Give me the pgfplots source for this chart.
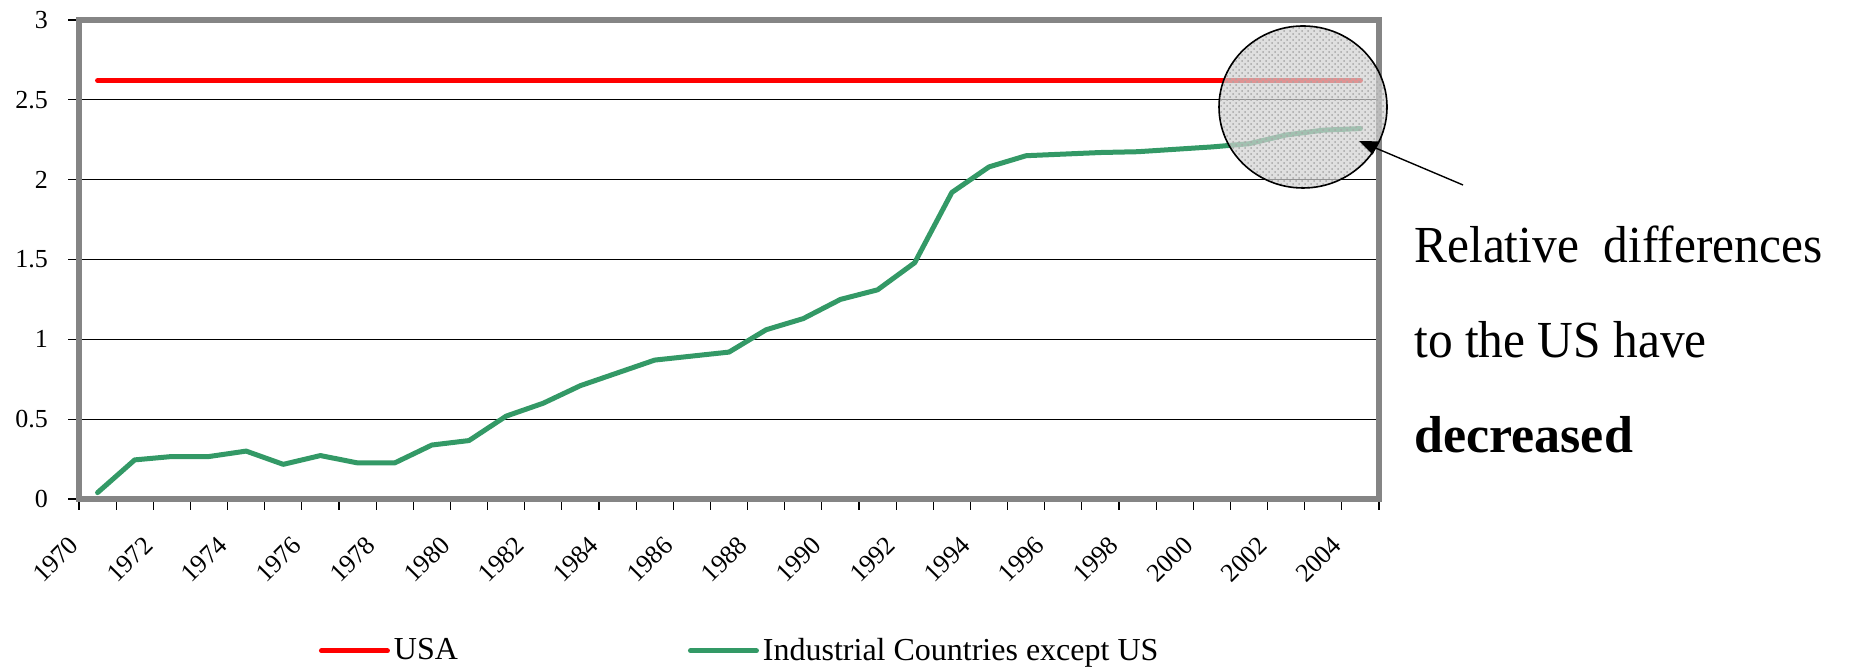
\documentclass[border=0pt]{standalone}
\usepackage{fontspec}
\setmainfont{Liberation Serif}
\newfontfamily\notefont[FakeStretch=0.95]{Liberation Serif}
\usepackage{pgfplots}
\pgfplotsset{compat=1.18}
\usetikzlibrary{arrows.meta,patterns}
\definecolor{usred}{HTML}{FF0000}
\definecolor{indgreen}{HTML}{339966}
\definecolor{framegray}{HTML}{858585}

\begin{document}
\begin{tikzpicture}
\useasboundingbox (-39.5pt,-84pt) rectangle (896.5pt,249.5pt);
\begin{axis}[
  at={(0,0)}, anchor=south west,
  width=650pt, height=239.5pt, scale only axis,
  xmin=1969.5, xmax=2004.5, ymin=0, ymax=3,
  ytick={0,0.5,1,1.5,2,2.5,3},
  % labelled boundaries every second year, plain ones in between
  xtick={1969.5,1971.5,1973.5,1975.5,1977.5,1979.5,1981.5,1983.5,1985.5,
         1987.5,1989.5,1991.5,1993.5,1995.5,1997.5,1999.5,2001.5,2003.5},
  xticklabels={1970,1972,1974,1976,1978,1980,1982,1984,1986,
               1988,1990,1992,1994,1996,1998,2000,2002,2004},
  minor xtick={1970.5,1972.5,1974.5,1976.5,1978.5,1980.5,1982.5,1984.5,1986.5,
               1988.5,1990.5,1992.5,1994.5,1996.5,1998.5,2000.5,2002.5,2004.5},
  xtick pos=bottom, ytick pos=left,
  tick align=outside, major tick length=5.5pt, minor tick length=5.5pt,
  tick style={black, line width=0.6pt},
  minor tick style={black, line width=0.6pt},
  ymajorgrids, grid style={black, line width=0.6pt},
  axis line style={framegray, line width=2.6pt},
  /pgf/number format/assume math mode=true,
  ticklabel style={font=\fontsize{13}{15}\selectfont},
  yticklabel style={xshift=-6.5pt},
  xticklabel style={yshift=-13pt, rotate=45, anchor=east},
  legend style={at={(0.509,-0.317)}, anchor=center, draw=none, fill=none,
    legend columns=2, font=\fontsize{16}{19}\selectfont,
    /tikz/every even column/.append style={column sep=113pt}},
  legend image code/.code={\draw[#1] (0pt,0pt) -- (33pt,0pt);},
]
\addplot[usred, line width=2.5pt, line cap=round] coordinates {
  (1970,2.62) (1971,2.62) (1972,2.62) (1973,2.62) (1974,2.62) (1975,2.62)
  (1976,2.62) (1977,2.62) (1978,2.62) (1979,2.62) (1980,2.62) (1981,2.62)
  (1982,2.62) (1983,2.62) (1984,2.62) (1985,2.62) (1986,2.62) (1987,2.62)
  (1988,2.62) (1989,2.62) (1990,2.62) (1991,2.62) (1992,2.62) (1993,2.62)
  (1994,2.62) (1995,2.62) (1996,2.62) (1997,2.62) (1998,2.62) (1999,2.62)
  (2000,2.62) (2001,2.62) (2002,2.62) (2003,2.62) (2004,2.62)};
\addlegendentry{USA}
\addplot[indgreen, line width=2.5pt, line cap=round, line join=round] coordinates {
  (1970,0.04) (1971,0.245) (1972,0.266) (1973,0.266) (1974,0.30) (1975,0.217)
  (1976,0.272) (1977,0.226) (1978,0.226) (1979,0.338) (1980,0.366) (1981,0.519)
  (1982,0.60) (1983,0.71) (1984,0.79) (1985,0.87) (1986,0.895) (1987,0.92)
  (1988,1.06) (1989,1.13) (1990,1.25) (1991,1.31) (1992,1.48) (1993,1.92)
  (1994,2.08) (1995,2.15) (1996,2.16) (1997,2.17) (1998,2.175) (1999,2.19)
  (2000,2.205) (2001,2.225) (2002,2.28) (2003,2.31) (2004,2.32)};
\addlegendentry{Industrial Countries except US}
\end{axis}
% magnifier over the last years
\fill[gray!35, fill opacity=0.7] (612pt,196pt) ellipse [x radius=42pt, y radius=40.5pt];
\fill[pattern=crosshatch dots, pattern color=gray!70] (612pt,196pt) ellipse [x radius=42pt, y radius=40.5pt];
\draw[black, line width=0.8pt] (612pt,196pt) ellipse [x radius=42pt, y radius=40.5pt];
\draw[-{Triangle[length=9pt,width=7pt]}, line width=0.7pt] (692pt,157pt) -- (640pt,179pt);
% comment text
\begin{scope}[every node/.style={anchor=base west, inner sep=0pt}]
\node[font=\notefont\fontsize{26}{30}\selectfont] at (667.5pt,118pt) {Relative\ \ differences};
\node[font=\notefont\fontsize{26}{30}\selectfont] at (667.5pt,70.5pt) {to the US have};
\node[font=\fontsize{26}{30}\selectfont\bfseries] at (667.5pt,23pt) {decreased};
\end{scope}
\end{tikzpicture}
\end{document}
